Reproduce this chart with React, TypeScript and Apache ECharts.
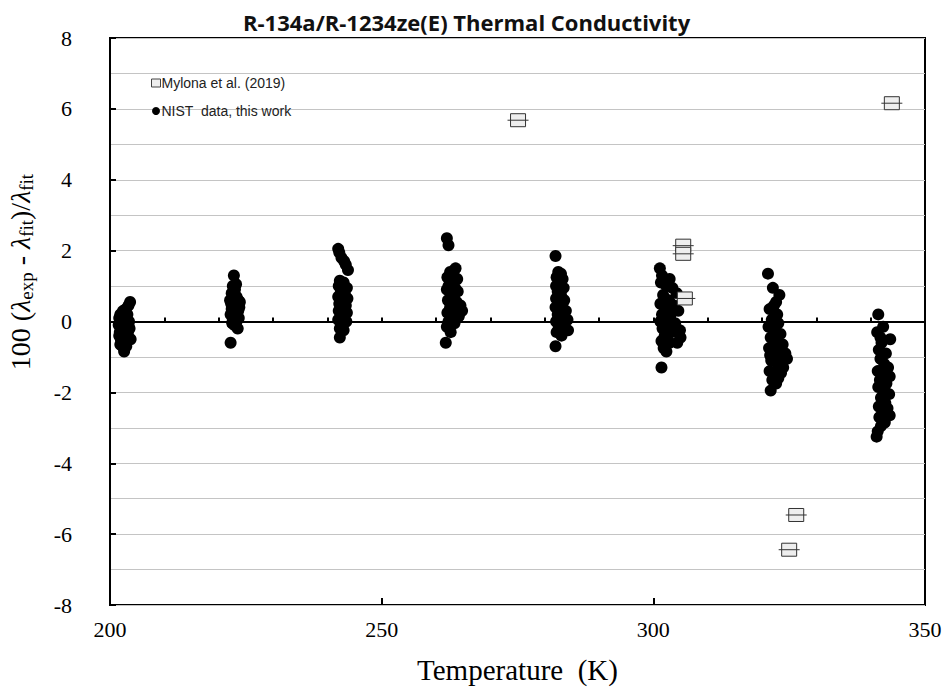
import React, { useEffect, useRef } from "react";
import * as echarts from "echarts";

const titleText = "R-134a/R-1234ze(E) Thermal Conductivity";
const xName = "Temperature  (K)";
const seriesNames = ["Mylona et al. (2019)", "NIST  data, this work"];

// Mylona et al. (2019): temperature (K) and deviation (%)
const mylonaT = [275.1, 305.5, 305.5, 305.8, 326.3, 325.0, 343.9];
const mylonaDev = [5.68, 2.14, 1.91, 0.65, -5.46, -6.44, 6.16];

// NIST data, this work: [temperature K, deviation %] per isotherm
const nist202 = [
  [201.6, -0.1], [201.7, 0.1], [201.8, -0.3], [201.9, 0.2], [202.0, -0.5], [202.1, 0.0],
  [202.2, -0.2], [202.3, -0.7], [202.4, 0.3], [202.5, -0.4], [202.6, -0.85], [202.7, 0.1],
  [202.8, -0.6], [202.9, 0.35], [203.0, -0.15], [203.1, -0.45], [203.2, 0.2], [203.3, -0.3],
  [203.4, 0.45], [203.5, 0.0], [203.6, -0.2], [203.7, 0.55], [203.8, -0.5], [202.2, 0.15],
  [201.9, -0.65], [203.0, -0.7], [202.6, 0.25], [201.7, -0.4], [203.4, -0.1],
];
const nist222 = [
  [222.8, 1.3], [222.6, 1.0], [223.0, 0.9], [222.4, 0.8], [223.3, 0.7], [222.7, 0.65],
  [223.6, 0.6], [222.3, 0.5], [223.1, 0.45], [223.8, 0.4], [222.5, 0.3], [223.4, 0.25],
  [222.2, 0.2], [223.0, 0.15], [223.7, 0.1], [222.6, 0.05], [223.3, 0.0], [222.9, -0.1],
  [223.5, -0.2], [222.4, 0.35], [223.9, 0.55], [222.1, 0.6], [223.2, 1.05], [222.5, -0.05],
  [222.2, -0.6], [223.6, 0.3], [222.9, 0.75], [223.0, 0.0],
];
const nist242 = [
  [242.0, 2.05], [242.2, 1.95], [242.6, 1.8], [243.1, 1.7], [243.4, 1.6], [243.8, 1.45],
  [242.3, 1.15], [243.0, 1.1], [242.1, 1.0], [243.6, 0.95], [242.5, 0.85], [243.2, 0.8],
  [242.0, 0.7], [243.7, 0.65], [242.7, 0.6], [242.2, 0.5], [243.4, 0.45], [242.9, 0.35],
  [242.1, 0.3], [243.6, 0.25], [242.5, 0.2], [243.1, 0.1], [242.0, 0.05], [243.5, 0.0],
  [242.7, -0.05], [242.3, -0.2], [243.0, -0.25], [242.3, -0.45], [243.2, 0.55], [242.4, 1.05],
];
const nist262 = [
  [262.0, 2.35], [262.3, 2.15], [263.6, 1.5], [262.6, 1.4], [263.2, 1.35], [262.1, 1.25],
  [263.9, 1.2], [262.8, 1.1], [262.3, 1.0], [263.5, 0.95], [262.0, 0.9], [264.0, 0.85],
  [262.7, 0.8], [263.3, 0.7], [262.2, 0.6], [263.8, 0.55], [264.5, 0.45], [262.6, 0.4],
  [263.1, 0.35], [264.8, 0.3], [262.1, 0.25], [263.6, 0.2], [262.9, 0.1], [262.3, 0.0],
  [263.4, -0.05], [262.0, -0.15], [262.7, -0.3], [261.8, -0.6], [264.2, 0.15], [263.0, 0.6],
];
const nist282 = [
  [282.0, 1.85], [282.5, 1.4], [283.0, 1.35], [282.2, 1.25], [283.3, 1.2], [282.7, 1.1],
  [282.1, 1.0], [283.5, 0.95], [282.4, 0.85], [283.0, 0.75], [282.1, 0.65], [283.6, 0.6],
  [282.6, 0.5], [282.0, 0.4], [283.2, 0.35], [283.9, 0.3], [282.4, 0.2], [283.0, 0.1],
  [282.1, 0.0], [284.2, 0.05], [283.5, -0.1], [282.6, -0.15], [284.3, -0.25], [282.2, -0.3],
  [283.1, -0.4], [282.0, -0.7], [283.4, 0.55], [282.8, 0.25],
];
const nist302 = [
  [301.2, 1.5], [301.6, 1.3], [303.0, 1.2], [301.4, 1.1], [302.4, 1.0], [303.5, 0.95],
  [304.3, 0.8], [301.8, 0.75], [302.9, 0.6], [301.3, 0.5], [303.8, 0.45], [302.2, 0.35],
  [304.6, 0.3], [301.6, 0.2], [303.1, 0.15], [302.5, 0.05], [301.3, 0.0], [304.0, -0.05],
  [302.8, -0.1], [301.7, -0.2], [304.9, -0.25], [303.4, -0.3], [302.1, -0.4], [305.0, -0.45],
  [301.5, -0.55], [303.0, -0.6], [301.9, -0.75], [302.4, -0.85], [301.5, -1.3], [304.4, -0.6],
  [302.7, 0.4],
];
const nist322 = [
  [321.1, 1.35], [322.0, 0.95], [323.2, 0.75], [322.6, 0.55], [321.4, 0.35], [322.8, 0.2],
  [321.8, 0.05], [323.0, -0.05], [321.2, -0.15], [322.3, -0.25], [323.4, -0.35], [321.6, -0.45],
  [322.7, -0.55], [323.8, -0.65], [321.3, -0.75], [322.4, -0.85], [324.3, -0.9], [323.1, -0.95],
  [324.6, -1.05], [321.7, -1.1], [322.9, -1.2], [323.9, -1.3], [321.4, -1.4], [322.5, -1.5],
  [323.5, -1.45], [321.9, -1.65], [322.6, -1.75], [321.6, -1.95], [323.0, -1.6], [322.2, 0.45],
  [321.5, -0.95],
];
const nist342 = [
  [341.4, 0.2], [342.3, -0.15], [341.2, -0.3], [343.6, -0.5], [342.0, -0.6], [341.5, -0.8],
  [342.8, -0.9], [341.8, -1.05], [342.5, -1.2], [343.2, -1.3], [341.3, -1.4], [342.1, -1.5],
  [343.5, -1.55], [341.7, -1.65], [342.9, -1.75], [341.4, -1.85], [342.4, -1.95], [343.4, -2.05],
  [341.9, -2.15], [342.7, -2.3], [341.5, -2.4], [343.1, -2.45], [342.2, -2.6], [343.5, -2.65],
  [341.6, -2.7], [342.6, -2.85], [341.9, -2.95], [341.3, -3.1], [341.1, -3.25], [342.8, -2.0],
  [341.8, -0.45],
];

const yTicks = { min: -8, max: 8, interval: 2 };
const xTicks = { min: 200, max: 350, interval: 10, labelEvery: 50 };

const SERIF = "'Liberation Serif', 'Times New Roman', serif";
const SANS = "'Liberation Sans', Arial, sans-serif";

export default function App() {
  const ref = useRef<HTMLDivElement>(null);
  useEffect(() => {
    if (!ref.current) return;
    const chart = echarts.init(ref.current, undefined, { renderer: "svg" });
    const nistAll = [
      ...nist202, ...nist222, ...nist242, ...nist262,
      ...nist282, ...nist302, ...nist322, ...nist342,
    ];
    const mylona = mylonaT.map((t, i) => [t, mylonaDev[i]]);
    const option: any = {
      animation: false,
      backgroundColor: "#ffffff",
      title: {
        text: titleText,
        left: 238,
        top: 6,
        textStyle: {
          fontFamily: "'Liberation Sans Narrow', 'Open Sans', sans-serif",
          fontWeight: "bold",
          fontSize: 22,
          color: "#111",
        },
      },
      legend: {
        orient: "vertical",
        left: 146,
        top: 71,
        itemGap: 14,
        itemWidth: 9,
        itemHeight: 8,
        textStyle: { fontFamily: SANS, fontSize: 14, color: "#222", padding: [0, 0, 0, -4] },
        data: [
          {
            name: seriesNames[0],
            icon: "rect",
            itemStyle: { color: "#eeeeee", borderColor: "#444", borderWidth: 1 },
          },
          { name: seriesNames[1], icon: "circle", itemStyle: { color: "#000", opacity: 1 } },
        ],
      },
      grid: {
        left: 110,
        right: 24,
        top: 38,
        bottom: 82,
        show: true,
        borderColor: "#000",
        borderWidth: 2,
        backgroundColor: "transparent",
      },
      xAxis: [
        {
          type: "value",
          min: xTicks.min,
          max: xTicks.max,
          interval: xTicks.interval,
          name: xName,
          nameLocation: "middle",
          nameGap: 50,
          nameTextStyle: { fontFamily: SERIF, fontSize: 29, color: "#000" },
          axisLine: { show: true, lineStyle: { color: "#000", width: 2 } },
          axisTick: { show: true, inside: true, length: 4, lineStyle: { color: "#000", width: 2 } },
          axisLabel: {
            fontFamily: SERIF,
            fontSize: 22,
            color: "#000",
            margin: 13,
            showMinLabel: true,
            showMaxLabel: true,
            formatter: (v: number) => (v % xTicks.labelEvery === 0 ? String(v) : ""),
          },
          splitLine: { show: false },
        },
        {
          type: "value",
          position: "bottom",
          min: xTicks.min,
          max: xTicks.max,
          interval: xTicks.labelEvery,
          axisLine: { show: false },
          axisTick: { show: true, inside: true, length: 7, lineStyle: { color: "#000", width: 2 } },
          axisLabel: { show: false },
          splitLine: { show: false },
        },
      ],
      yAxis: {
        type: "value",
        min: yTicks.min,
        max: yTicks.max,
        interval: yTicks.interval,
        axisLine: { show: true, lineStyle: { color: "#000", width: 2 } },
        axisTick: { show: true, inside: true, length: 6, lineStyle: { color: "#000", width: 2 } },
        axisLabel: { fontFamily: SERIF, fontSize: 22, color: "#000", margin: 38 },
        splitLine: { show: true, lineStyle: { color: "#c4c4c4", width: 1 } },
        minorTick: { show: false, splitNumber: 2 },
        minorSplitLine: { show: true, lineStyle: { color: "#c4c4c4", width: 1 } },
      },
      graphic: [
        {
          type: "text",
          x: 21,
          y: 272,
          rotation: Math.PI / 2,
          style: {
            text: "{a|100 (}{l|λ}{s|exp}{a| - }{l|λ}{s|fit}{a|)/}{l|λ}{s|fit}",
            align: "center",
            verticalAlign: "middle",
            fill: "#000",
            rich: {
              a: { fontFamily: SERIF, fontSize: 28, lineHeight: 30, verticalAlign: "top", fill: "#000" },
              l: { fontFamily: SERIF, fontSize: 28, lineHeight: 30, verticalAlign: "top", fontStyle: "italic", fill: "#000" },
              s: { fontFamily: SERIF, fontSize: 19, lineHeight: 19, verticalAlign: "bottom", padding: [17, 0, 0, 0], fill: "#000" },
            },
          },
        },
      ],
      series: [
        {
          name: seriesNames[1],
          type: "scatter",
          data: nistAll,
          symbol: "circle",
          symbolSize: 12,
          itemStyle: { color: "#000", opacity: 1 },
          z: 3,
          markLine: {
            silent: true,
            symbol: "none",
            label: { show: false },
            lineStyle: { color: "#000", width: 2, type: "solid" },
            data: [{ yAxis: 0 }],
          },
        },
        {
          name: seriesNames[0],
          type: "custom",
          data: mylona,
          encode: { x: 0, y: 1 },
          z: 4,
          renderItem: (_params: any, api: any) => {
            const p = api.coord([api.value(0), api.value(1)]);
            return {
              type: "group",
              children: [
                {
                  type: "rect",
                  shape: { x: p[0] - 7.5, y: p[1] - 6.5, width: 15, height: 13 },
                  style: { fill: "#eeeeee", stroke: "#333", lineWidth: 1 },
                },
                {
                  type: "line",
                  shape: { x1: p[0] - 10.5, y1: p[1], x2: p[0] + 10.5, y2: p[1] },
                  style: { stroke: "#333", lineWidth: 1 },
                },
              ],
            };
          },
        },
      ],
    };
    chart.setOption(option);
    return () => chart.dispose();
  }, []);
  return (
    <div
      ref={ref}
      style={{ position: "fixed", left: 0, top: 0, width: 949, height: 689 }}
    />
  );
}
